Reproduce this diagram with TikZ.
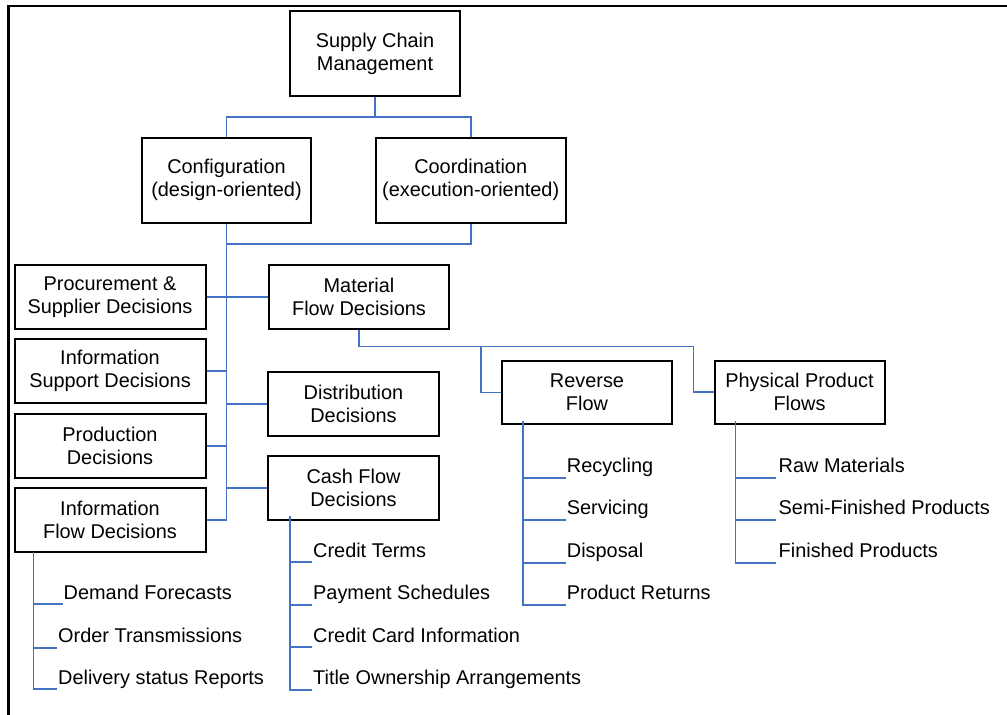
\documentclass[tikz,border=0pt]{standalone}
\usepackage{fontspec}
\setmainfont{Liberation Sans}
\begin{document}
\begin{tikzpicture}[x=1pt,y=-1pt,
  box/.style={draw=black,line width=2pt,align=center,inner sep=0pt,
    font=\fontsize{19.9}{23}\selectfont},
  conn/.style={draw=lineblue,line width=1.8pt},
  item/.style={anchor=base west,inner sep=0pt,font=\fontsize{19.9}{23}\selectfont}]
\definecolor{lineblue}{HTML}{4472C4}
\useasboundingbox (0,0) rectangle (1007,715);
\draw[line width=2.5pt] (8.3,715) -- (8.3,6) -- (1007,6);
% boxes
\node[box,minimum width=170,minimum height=85] (scm) at (375,53.5) {Supply Chain\\Management};
\node[box,minimum width=169,minimum height=85] (conf) at (226.5,180) {Configuration\\(design-oriented)};
\node[box,minimum width=190,minimum height=85] (coord) at (470.7,180) {Coordination\\(execution-oriented)};
\node[box,minimum width=191,minimum height=64] (proc) at (110,297) {Procurement \&\\Supplier Decisions};
\node[box,minimum width=180,minimum height=64] (mat) at (359,297) {Material\\Flow Decisions};
\node[box,minimum width=191,minimum height=64] (infosup) at (110,371.3) {Information\\Support Decisions};
\node[box,minimum width=171,minimum height=64] (dist) at (353.5,403.7) {Distribution\\Decisions};
\node[box,minimum width=191,minimum height=64] (prod) at (110,446) {Production\\Decisions};
\node[box,minimum width=171,minimum height=64] (cash) at (353.5,488) {Cash Flow\\Decisions};
\node[box,minimum width=191,minimum height=64] (infoflow) at (110,520) {Information\\Flow Decisions};
\node[box,minimum width=170,minimum height=63] (rev) at (587,392.5) {Reverse\\Flow};
\node[box,minimum width=170,minimum height=63] (phys) at (799.5,392.3) {Physical Product\\Flows};
% coordinates
\coordinate (t0) at (375,116.7);
\coordinate (tl) at (226.5,116.7);
\coordinate (tr) at (470.7,116.7);
\coordinate (trunkend) at (226.5,520);
\coordinate (cj) at (226.5,243.7);
\coordinate (mj) at (359,346.5);
\coordinate (mr) at (481.3,346.5);
\coordinate (mp) at (693.5,346.5);
% top connectors
\draw[conn] (scm.south) -- (t0) -- (tl) -- (conf.north);
\draw[conn] (t0) -- (tr) -- (coord.north);
\draw[conn] (conf.south) -- (trunkend);
\draw[conn] (coord.south) |- (cj);
\draw[conn] (proc.east) -- (mat.west);
\draw[conn] (infosup.east) -- (infosup.east -| trunkend);
\draw[conn] (dist.west) -- (dist.west -| trunkend);
\draw[conn] (prod.east) -- (prod.east -| trunkend);
\draw[conn] (cash.west) -- (cash.west -| trunkend);
\draw[conn] (infoflow.east) -- (trunkend);
% material flow branches
\draw[conn] (mat.south) -- (mj) -- (mp) |- (phys.west);
\draw[conn] (mr) |- (rev.west);
% info flow sub-list
\coordinate (if0) at (33.5,552);
\coordinate (if1) at (33.5,604.3);
\coordinate (if2) at (33.5,647.7);
\coordinate (if3) at (33.5,689.3);
\draw[conn] (if0) -- (if3) -- (57,689.3);
\draw[conn] (if1) -- (63,604.3);
\draw[conn] (if2) -- (57,647.7);
\node[item] (df) at (63.5,599) {Demand Forecasts};
\node[item] (ot) at (58,642.3) {Order Transmissions};
\node[item] (dsr) at (58,684) {Delivery status Reports};
% cash flow sub-list
\coordinate (cf0) at (290,516);
\coordinate (cf1) at (290,562.3);
\coordinate (cf2) at (290,604.7);
\coordinate (cf3) at (290,647.3);
\coordinate (cf4) at (290,689.7);
\draw[conn] (cf0) -- (cf4) -- (312,689.7);
\draw[conn] (cf1) -- (312,562.3);
\draw[conn] (cf2) -- (312,604.7);
\draw[conn] (cf3) -- (312,647.3);
\node[item] (ct) at (313,557) {Credit Terms};
\node[item] (ps) at (313,599.4) {Payment Schedules};
\node[item] (cci) at (313,642) {Credit Card Information};
\node[item] (toa) at (313,684.4) {Title Ownership Arrangements};
% reverse flow sub-list
\coordinate (rf0) at (523.3,421);
\coordinate (rf1) at (523.3,477.7);
\coordinate (rf2) at (523.3,520);
\coordinate (rf3) at (523.3,562.7);
\coordinate (rf4) at (523.3,604.7);
\draw[conn] (rf0) -- (rf4) -- (565.7,604.7);
\draw[conn] (rf1) -- (565.7,477.7);
\draw[conn] (rf2) -- (565.7,520);
\draw[conn] (rf3) -- (565.7,562.7);
\node[item] (rc) at (566.7,472.4) {Recycling};
\node[item] (sv) at (566.7,514.7) {Servicing};
\node[item] (dp) at (566.7,557.4) {Disposal};
\node[item] (pr) at (566.7,599.4) {Product Returns};
% physical product sub-list
\coordinate (pf0) at (735.5,421);
\coordinate (pf1) at (735.5,477.7);
\coordinate (pf2) at (735.5,520);
\coordinate (pf3) at (735.5,562.7);
\draw[conn] (pf0) -- (pf3) -- (776,562.7);
\draw[conn] (pf1) -- (776,477.7);
\draw[conn] (pf2) -- (776,520);
\node[item] (rm) at (778.5,472.4) {Raw Materials};
\node[item] (sfp) at (778.5,514.7) {Semi-Finished Products};
\node[item] (fp) at (778.5,557.4) {Finished Products};
\end{tikzpicture}
\end{document}
